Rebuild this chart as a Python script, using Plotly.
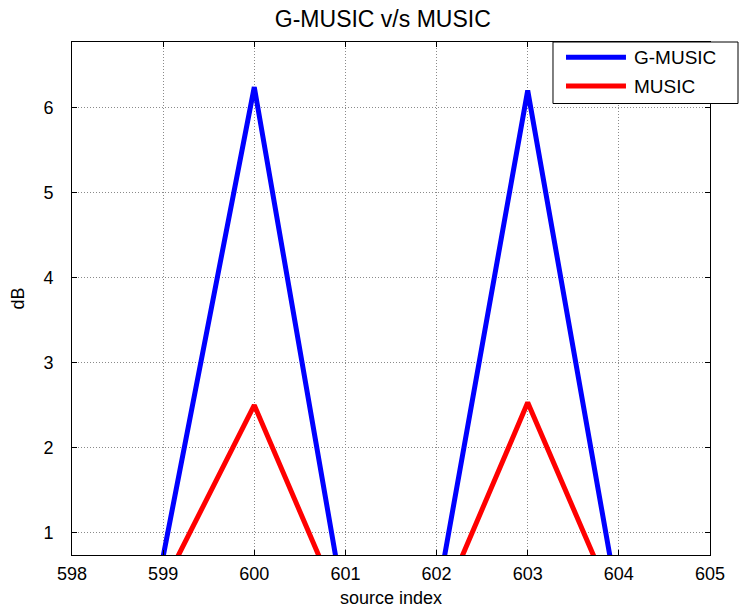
import plotly.graph_objects as go

# Source indices and spectrum levels (dB)
source_index = [598, 599, 600, 601, 602, 603, 604, 605]
g_music_db = [0.0, 0.72, 6.24, 0.06, 0.20, 6.20, 0.13, 0.0]
music_db = [0.0, 0.38, 2.50, 0.0, 0.02, 2.53, 0.04, 0.0]

series_names = ["G-MUSIC", "MUSIC"]
series_colors = ["#0000ff", "#ff0000"]

x_ticks = [598, 599, 600, 601, 602, 603, 604, 605]
y_ticks = [1, 2, 3, 4, 5, 6]

font_family = "Liberation Sans, Arial, sans-serif"

fig = go.Figure()
for name, values, color in zip(series_names, [g_music_db, music_db], series_colors):
    fig.add_trace(go.Scatter(
        x=source_index, y=values, mode="lines", name=name,
        line=dict(color=color, width=5),
    ))

axis_common = dict(
    showline=True, linecolor="black", linewidth=1, mirror="allticks",
    ticks="inside", ticklen=5, tickcolor="black", tickwidth=1,
    showgrid=True, gridcolor="#8a8a8a", griddash="1px,2px", gridwidth=1,
    zeroline=False, automargin=False,
    tickfont=dict(family=font_family, size=18, color="black"),
)

fig.update_xaxes(
    range=[598, 605], tickvals=x_ticks, ticklabelstandoff=2,
    title=dict(text="source index", font=dict(family=font_family, size=18, color="black"), standoff=8),
    **axis_common,
)
fig.update_yaxes(
    range=[0.738, 6.77], tickvals=y_ticks, ticklabelstandoff=14,
    title=dict(text="dB", font=dict(family=font_family, size=18, color="black"), standoff=14),
    **axis_common,
)

# Boxed legend in the upper right corner, overhanging the axes frame
legend_box = dict(x0=0.7539, x1=1.0439, y0=0.8801, y1=1.0)
legend_rows_y = [0.9702, 0.9142]
legend_line_x = (0.7743, 0.8683)
legend_text_x = 0.8777

shapes = [dict(type="rect", xref="paper", yref="paper", line=dict(color="black", width=1),
               fillcolor="white", layer="above", **legend_box)]
annotations = []
for name, color, ry in zip(series_names, series_colors, legend_rows_y):
    shapes.append(dict(type="line", xref="paper", yref="paper", layer="above",
                       x0=legend_line_x[0], x1=legend_line_x[1], y0=ry, y1=ry,
                       line=dict(color=color, width=5)))
    annotations.append(dict(xref="paper", yref="paper", x=legend_text_x, y=ry,
                            xanchor="left", yanchor="middle", showarrow=False, text=name,
                            font=dict(family=font_family, size=19, color="black")))

fig.update_layout(
    width=739, height=609,
    margin=dict(l=72, r=29, t=42, b=54),
    paper_bgcolor="white", plot_bgcolor="white",
    title=dict(text="G-MUSIC v/s MUSIC", x=0.518, xanchor="center", y=0.969, yanchor="middle",
               font=dict(family=font_family, size=23, color="black")),
    font=dict(family=font_family, size=18, color="black"),
    showlegend=False,
    shapes=shapes,
    annotations=annotations,
)

fig.write_html("out.html")
